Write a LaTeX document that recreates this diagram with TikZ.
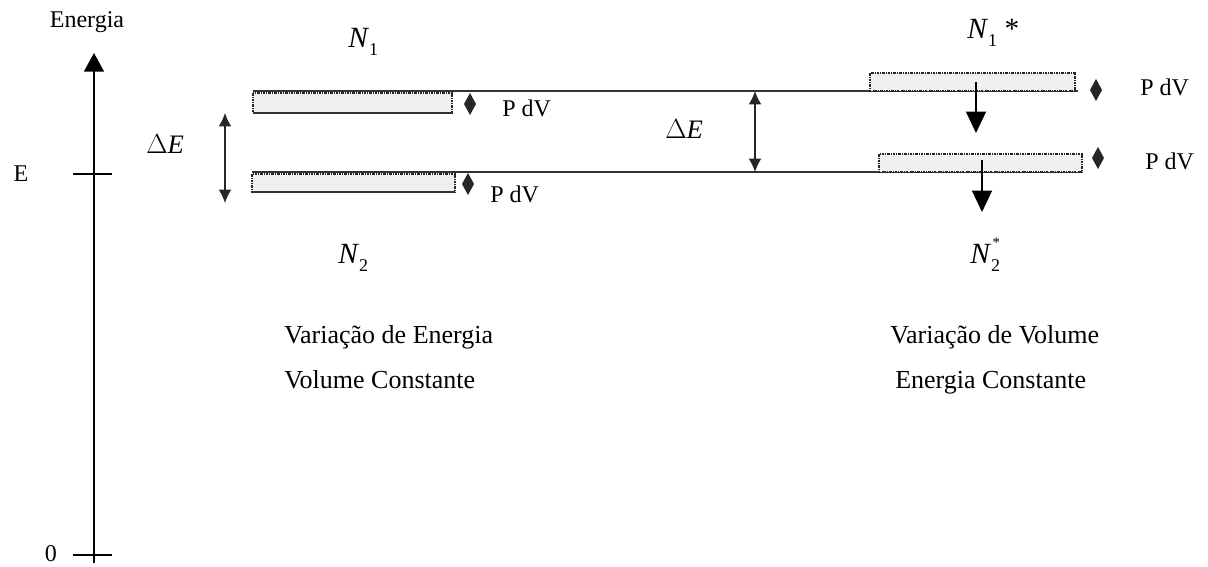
\documentclass[tikz,border=0pt]{standalone}
\usepackage{fontspec}
\setmainfont{Liberation Serif}
\usetikzlibrary{arrows.meta}
\begin{document}
\begin{tikzpicture}[x=0.75pt,y=-0.75pt,
  txt/.style={font=\fontsize{19.5}{22}\selectfont, inner sep=0},
  axtxt/.style={font=\fontsize{18}{20}\selectfont, inner sep=0},
  pdvtxt/.style={font=\fontsize{18}{20}\selectfont, inner sep=0},
  bigsym/.style={font=\fontsize{22}{24}\selectfont, inner sep=0},
  dsym/.style={font=\fontsize{20}{22}\selectfont, inner sep=0},
  levelline/.style={line width=1.2pt, draw=black!80},
  popbox/.style={draw=black!85, fill=black!6, line width=0.8pt,
    dash pattern=on 2pt off 0.8pt on 0.6pt off 0.8pt},
  dblarrow/.style={line width=0.9pt, draw=black!85,
    {Latex[length=10pt,width=9.5pt]}-{Latex[length=10pt,width=9.5pt]}},
  shiftarrow/.style={line width=0.9pt, -{Triangle[length=16pt,width=15pt]}},
  tick/.style={line width=1pt},
  pdvmark/.pic={\fill[black!85] (0,-11) -- (6,0) -- (0,11) -- (-6,0) -- cycle;}
]
\useasboundingbox (0,0) rectangle (1208,567);

% energy axis with ticks
\coordinate (axbot) at (94,563);
\coordinate (axtop) at (94,53);
\draw[line width=1pt, -{Triangle[length=14pt,width=15pt]}] (axbot) -- (axtop);
\coordinate (t0a) at (73,555); \coordinate (t0b) at (112,555);
\coordinate (tEa) at (73,174); \coordinate (tEb) at (112,174);
\draw[tick] (t0a) -- (t0b);
\draw[tick] (tEa) -- (tEb);
\node[axtxt] (energia) at (87,22) {Energia};
\node[axtxt] (lblE) at (21,174) {E};
\node[axtxt] (lbl0) at (51,554) {0};

% energy levels
\coordinate (up1) at (253,91);  \coordinate (up2) at (1078,91);
\coordinate (lo1) at (252,172); \coordinate (lo2) at (1082,172);
\draw[levelline] (up1) -- (up2);
\draw[levelline] (lo1) -- (lo2);

% populations, constant volume
\draw[popbox] (253,93) rectangle (452,113);
\draw[levelline] (253,113) -- (452,113);
\draw[popbox] (252,174) rectangle (455,192);
\draw[levelline] (252,192) -- (455,192);

% populations, constant energy
\draw[popbox] (870,73) rectangle (1075,91);
\draw[popbox] (879,154) rectangle (1082,172);

% P dV marks
\pic at (470,104) {pdvmark};
\pic at (468,184) {pdvmark};
\pic at (1096,90) {pdvmark};
\pic at (1098,158) {pdvmark};
\node[pdvtxt, anchor=base west] (pdv1) at (502,117) {P dV};
\node[pdvtxt, anchor=base west] (pdv2) at (490,203) {P dV};
\node[pdvtxt, anchor=base west] (pdv3) at (1140,96) {P dV};
\node[pdvtxt, anchor=base west] (pdv4) at (1145,170) {P dV};

% Delta E arrows
\coordinate (dl1) at (225,113); \coordinate (dl2) at (225,203);
\draw[dblarrow] (dl1) -- (dl2);
\coordinate (dm1) at (755,91); \coordinate (dm2) at (755,172);
\draw[dblarrow] (dm1) -- (dm2);
\node[dsym, anchor=base west] (dEl) at (146,154) {$\Delta$\textit{E}};
\node[dsym, anchor=base west] (dEm) at (665,139) {$\Delta$\textit{E}};

% shift arrows
\coordinate (s1a) at (976,82);  \coordinate (s1b) at (976,133);
\coordinate (s2a) at (982,160); \coordinate (s2b) at (982,212);
\draw[shiftarrow] (s1a) -- (s1b);
\draw[shiftarrow] (s2a) -- (s2b);

% level population labels
\newcommand{\subdigit}[1]{\raisebox{-6pt}{\fontsize{13.5}{15}\selectfont #1}}
\node[bigsym, anchor=base west] (n1) at (348,48) {\textit{N}\subdigit{1}};
\node[bigsym, anchor=base west] (n1s) at (967,39) {\textit{N}\subdigit{1} *};
\node[bigsym, anchor=base west] (n2) at (338,263) {\textit{N}\subdigit{2}};
\node[bigsym, anchor=base west] (n2s) at (970,263) {\textit{N}\subdigit{\rlap{\raisebox{18pt}{\fontsize{11}{12}\selectfont\kern1pt *}}2}};

% captions
\node[txt, anchor=base west] (c1) at (284,343) {Variação de Energia};
\node[txt, anchor=base west] (c2) at (284,388) {Volume Constante};
\node[txt, anchor=base west] (c3) at (890,343) {Variação de Volume};
\node[txt, anchor=base west] (c4) at (895,388) {Energia Constante};
\end{tikzpicture}
\end{document}
